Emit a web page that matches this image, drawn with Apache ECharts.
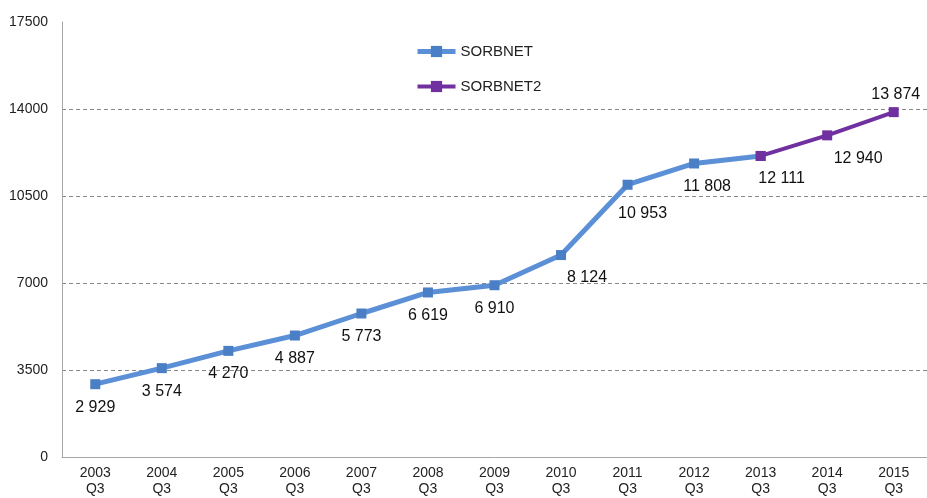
<!DOCTYPE html>
<html>
<head>
<meta charset="utf-8">
<script src="https://cdn.jsdelivr.net/npm/echarts@6/dist/echarts.min.js"></script>
<style>
  html, body { margin: 0; padding: 0; background: #fff; }
  #chart { width: 927px; height: 498px; }
</style>
</head>
<body>
<div id="chart"></div>
<script>
// dane
var years = ["2003", "2004", "2005", "2006", "2007", "2008", "2009", "2010", "2011", "2012", "2013", "2014", "2015"];
var sorbnet = [2929, 3574, 4270, 4887, 5773, 6619, 6910, 8124, 10953, 11808, 12111, null, null];
var sorbnet2 = [null, null, null, null, null, null, null, null, null, null, 12111, 12940, 13874];
var yTicks = [0, 3500, 7000, 10500, 14000, 17500];

var categories = years.map(function (y) { return y + "\nQ3"; });

function fmt(v) {
  return String(v).replace(/\B(?=(\d{3})+(?!\d))/g, " ");
}

// przesuniecia etykiet (x, y)
function labelOffset(i) {
  var o = { 7: [26, 0], 8: [15, 6], 9: [13, 0], 10: [21, 0], 11: [31, 0], 12: [2, 5] };
  return o[i] || [0, 0];
}

var chart = echarts.init(document.getElementById("chart"));
var font = "Liberation Sans, Arial, sans-serif";

chart.setOption({
  animation: false,
  grid: { left: 62, right: -2, top: 22, bottom: 41 },
  legend: {
    orient: "vertical",
    left: 410,
    top: 39,
    itemGap: 20,
    itemWidth: 38,
    itemHeight: 14,
    textStyle: { fontFamily: font, fontSize: 15, color: "#222" },
    data: [
      { name: "SORBNET", lineStyle: { width: 5 } },
      { name: "SORBNET2", lineStyle: { width: 4 } }
    ]
  },
  xAxis: {
    type: "category",
    data: categories,
    axisTick: { show: false },
    axisLine: { lineStyle: { color: "#a6a6a6", width: 1 } },
    axisLabel: { fontFamily: font, fontSize: 14, color: "#222", lineHeight: 16, margin: 8 },
    splitLine: { show: false }
  },
  yAxis: {
    type: "value",
    min: yTicks[0],
    max: yTicks[yTicks.length - 1],
    interval: 3500,
    axisLine: { show: true, lineStyle: { color: "#a6a6a6", width: 1 } },
    axisTick: { show: false },
    axisLabel: {
      fontFamily: font, fontSize: 14, color: "#222", margin: 14,
      formatter: function (v) { return String(v); }
    },
    splitLine: { show: true, showMaxLine: false, lineStyle: { color: "#888", type: [4, 3], width: 1 } }
  },
  series: [
    {
      name: "SORBNET",
      type: "line",
      data: sorbnet.map(function (v, i) {
        return {
          value: v,
          label: { show: i < 10, offset: labelOffset(i) }
        };
      }),
      symbol: "rect",
      symbolSize: 10,
      lineStyle: { color: "#5b8fd6", width: 5 },
      itemStyle: { color: "#4a7ec5" },
      label: {
        position: "bottom",
        distance: 10,
        fontFamily: font,
        fontSize: 16,
        color: "#111",
        formatter: function (p) { return fmt(p.value); }
      },
      z: 2
    },
    {
      name: "SORBNET2",
      type: "line",
      data: sorbnet2.map(function (v, i) {
        var last = i === sorbnet2.length - 1;
        return {
          value: v,
          label: {
            show: v != null,
            position: last ? "top" : "bottom",
            offset: labelOffset(i)
          }
        };
      }),
      symbol: "rect",
      symbolSize: 10,
      lineStyle: { color: "#7030a0", width: 4 },
      itemStyle: { color: "#7030a0" },
      label: {
        distance: 10,
        fontFamily: font,
        fontSize: 16,
        color: "#111",
        formatter: function (p) { return fmt(p.value); }
      },
      z: 3
    }
  ]
});
</script>
</body>
</html>
